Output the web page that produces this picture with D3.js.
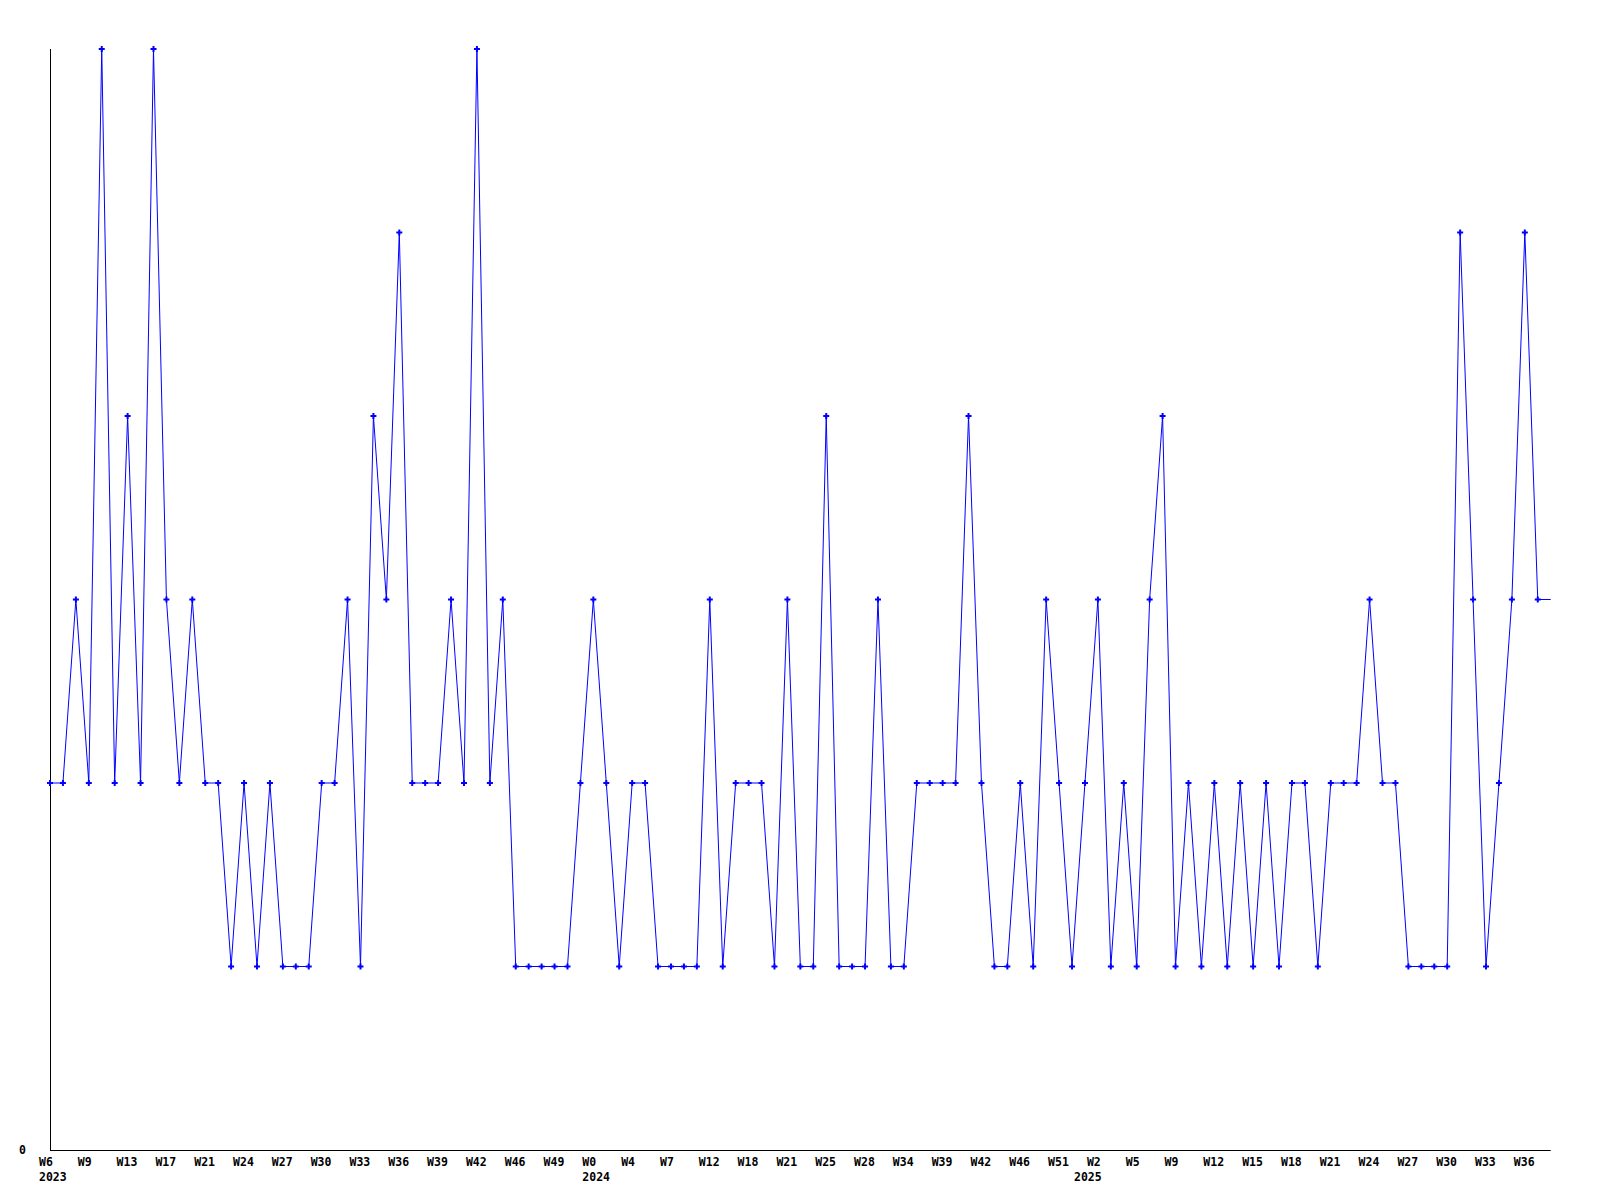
<!DOCTYPE html>
<html>
<head>
<meta charset="utf-8">
<script src="https://cdn.jsdelivr.net/npm/d3@7"></script>
<style>
  html, body { margin: 0; padding: 0; background: #fff; }
  .tick-label { font-family: "DejaVu Sans Mono", monospace; font-weight: bold; font-size: 11.5px; fill: #000; }
</style>
</head>
<body>
<div id="chart"></div>
<script>
// weekly counts, one per week slot
const values = [
  2, 2, 3, 2, 6, 2, 4, 2, 6, 3, 2, 3, 2, 2, 1, 2, 1, 2, 1, 1,
  1, 2, 2, 3, 1, 4, 3, 5, 2, 2, 2, 3, 2, 6, 2, 3, 1, 1, 1, 1,
  1, 2, 3, 2, 1, 2, 2, 1, 1, 1, 1, 3, 1, 2, 2, 2, 1, 3, 1, 1,
  4, 1, 1, 1, 3, 1, 1, 2, 2, 2, 2, 4, 2, 1, 1, 2, 1, 3, 2, 1,
  2, 3, 1, 2, 1, 3, 4, 1, 2, 1, 2, 1, 2, 1, 2, 1, 2, 2, 1, 2,
  2, 2, 3, 2, 2, 1, 1, 1, 1, 5, 3, 1, 2, 3, 5, 3
];

// one label every third slot
const weekLabels = [
  "W6", "W9", "W13", "W17", "W21", "W24", "W27", "W30", "W33", "W36",
  "W39", "W42", "W46", "W49", "W0", "W4", "W7", "W12", "W18", "W21",
  "W25", "W28", "W34", "W39", "W42", "W46", "W51", "W2", "W5", "W9",
  "W12", "W15", "W18", "W21", "W24", "W27", "W30", "W33", "W36"
];

// year labels sit at the slot where the year starts
const yearLabels = [
  { label: "2023", slot: 0 },
  { label: "2024", slot: 42 },
  { label: "2025", slot: 80 }
];

const width = 1600;
const height = 1200;

const x = d3.scaleLinear()
  .domain([0, values.length])
  .range([50, 1550.7]);

const y = d3.scaleLinear()
  .domain([0, 6])
  .range([1150, 49]);

const svg = d3.select("#chart")
  .append("svg")
  .attr("width", width)
  .attr("height", height);

// axes lines, no ticks
svg.append("line")
  .attr("x1", 50.5).attr("x2", 50.5)
  .attr("y1", y(6)).attr("y2", y(0))
  .attr("stroke", "#000").attr("stroke-width", 1);

svg.append("line")
  .attr("x1", 50).attr("x2", x(values.length))
  .attr("y1", y(0) + 0.5).attr("y2", y(0) + 0.5)
  .attr("stroke", "#000").attr("stroke-width", 1);

svg.append("text")
  .attr("class", "tick-label")
  .attr("x", 19)
  .attr("y", y(0) + 4)
  .text("0");

// the last value runs on to the right edge
const pts = values.map(function (v, i) { return [i, v]; });
pts.push([values.length, values[values.length - 1]]);

const line = d3.line()
  .x(function (d) { return x(d[0]); })
  .y(function (d) { return y(d[1]); });

svg.append("path")
  .datum(pts)
  .attr("d", line)
  .attr("fill", "none")
  .attr("stroke", "#0000ff")
  .attr("stroke-width", 1);

const marker = d3.symbol().type(d3.symbolCross).size(20);

svg.append("g")
  .selectAll("path")
  .data(values)
  .join("path")
  .attr("d", marker)
  .attr("transform", function (d, i) { return `translate(${x(i)},${y(d)})`; })
  .attr("fill", "#0000ff");

svg.append("g")
  .selectAll("text")
  .data(weekLabels)
  .join("text")
  .attr("class", "tick-label")
  .attr("x", function (d, i) { return x(i * 3) - 11; })
  .attr("y", 1166)
  .text(function (d) { return d; });

svg.append("g")
  .selectAll("text")
  .data(yearLabels)
  .join("text")
  .attr("class", "tick-label")
  .attr("x", function (d) { return x(d.slot) - 11; })
  .attr("y", 1181)
  .text(function (d) { return d.label; });
</script>
</body>
</html>
